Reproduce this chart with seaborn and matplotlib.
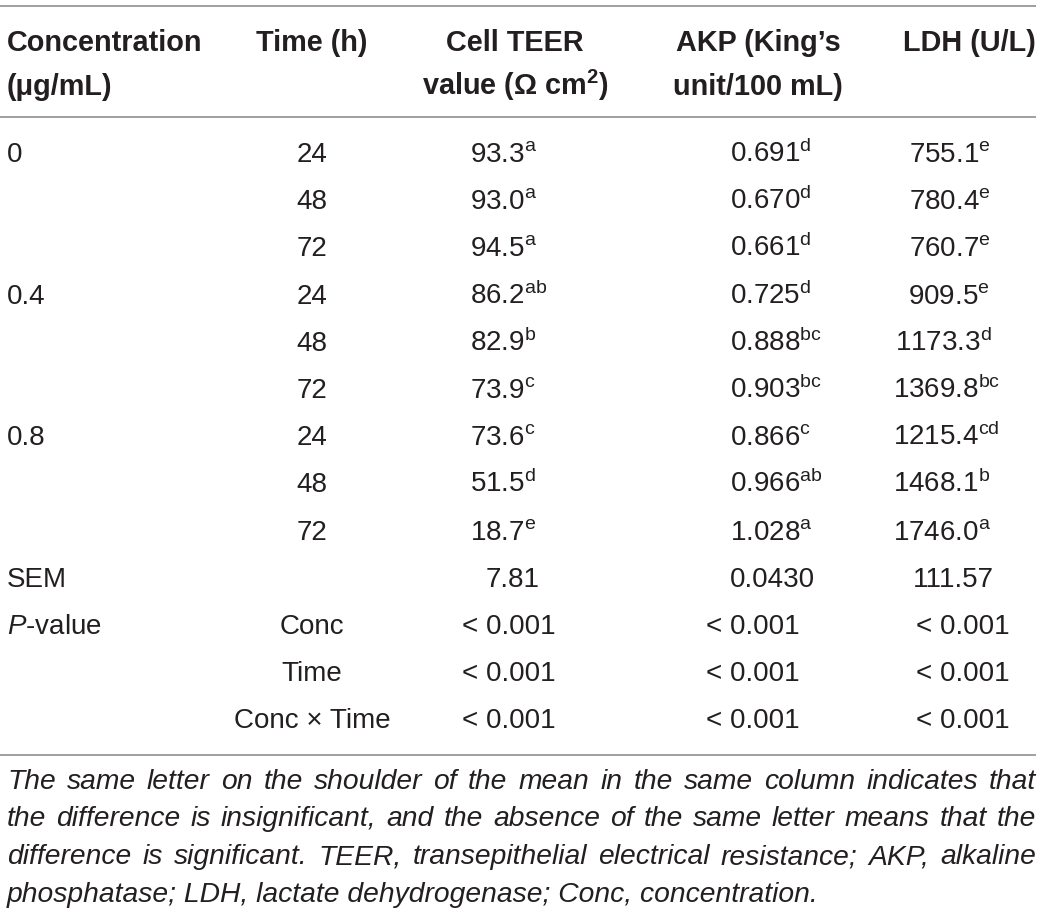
import matplotlib
matplotlib.use("Agg")
import matplotlib.pyplot as plt
import seaborn as sns

# table content
conc_labels = ["0", "", "", "0.4", "", "", "0.8", "", ""]
time_labels = ["24", "48", "72", "24", "48", "72", "24", "48", "72"]
teer = ["93.3", "93.0", "94.5", "86.2", "82.9", "73.9", "73.6", "51.5", "18.7"]
teer_sup = ["a", "a", "a", "ab", "b", "c", "c", "d", "e"]
akp = ["0.691", "0.670", "0.661", "0.725", "0.888", "0.903", "0.866", "0.966", "1.028"]
akp_sup = ["d", "d", "d", "d", "bc", "bc", "c", "ab", "a"]
ldh = ["755.1", "780.4", "760.7", "909.5", "1173.3", "1369.8", "1215.4", "1468.1", "1746.0"]
ldh_sup = ["e", "e", "e", "e", "d", "bc", "cd", "b", "a"]
sem_values = ["7.81", "0.0430", "111.57"]
p_terms = ["Conc", "Time", "Conc × Time"]
p_teer = ["< 0.001", "< 0.001", "< 0.001"]
p_akp = ["< 0.001", "< 0.001", "< 0.001"]
p_ldh = ["< 0.001", "< 0.001", "< 0.001"]

headers = [
    ["Concentration", "(μg/mL)"],
    ["Time (h)"],
    ["Cell TEER", r"value (Ω cm$^{\mathbf{2}}$)"],
    ["AKP (King’s", "unit/100 mL)"],
    ["LDH (U/L)"],
]
footnote = [
    "The same letter on the shoulder of the mean in the same column indicates that",
    "the difference is insignificant, and the absence of the same letter means that the",
    "difference is significant. TEER, transepithelial electrical resistance; AKP, alkaline",
    "phosphatase; LDH, lactate dehydrogenase; Conc, concentration.",
]

sns.set_theme(style="white")
plt.rcParams["font.family"] = ["Liberation Sans", "DejaVu Sans"]
plt.rcParams["mathtext.fontset"] = "custom"
plt.rcParams["mathtext.rm"] = "Liberation Sans"
plt.rcParams["mathtext.it"] = "Liberation Sans:italic"
plt.rcParams["mathtext.bf"] = "Liberation Sans:bold"

W, H = 1044, 916
fig = plt.figure(figsize=(W / 100, H / 100), dpi=100)
ax = fig.add_axes([0, 0, 1, 1])
ax.set_xlim(0, W)
ax.set_ylim(H, 0)
ax.axis("off")
r = fig.canvas.get_renderer()

ink = "#231f20"
fs = 20
hfs = 20.8
x_left = 7
x_time = 312
dec_x = [501, 745, 955]
head_x = [x_left, 312, 515, 758, 1036]
head_ha = ["left", "center", "center", "center", "right"]

ax.hlines([6, 117, 755], 0, 1036, color="#8f8f8f", lw=1.2)

# header
for lines, hx, ha in zip(headers, head_x, head_ha):
    for k, txt in enumerate(lines):
        ax.text(hx, 51 + 44 * k, txt, ha=ha, va="baseline", fontsize=hfs,
                fontweight="bold", color=ink)


def text_w(s, **kw):
    t = ax.text(0, 0, s, fontsize=fs, **kw)
    w = t.get_window_extent(r).width
    t.remove()
    return w


def dec_text(x, y, s, sup=""):
    ip = s.split(".")[0]
    # measure "ip." minus "." so the decimal point lands on x
    w = text_w(ip + ".") - text_w(".")
    full = s + (r"$^{\mathrm{%s}}$" % sup if sup else "")
    ax.text(x - w, y, full, ha="left", va="baseline", fontsize=fs, color=ink)


row_h = 47.2
base0 = 162
for i in range(len(time_labels)):
    y = base0 + i * row_h
    ax.text(x_left, y, conc_labels[i], ha="left", va="baseline", fontsize=fs, color=ink)
    ax.text(x_time, y, time_labels[i], ha="center", va="baseline", fontsize=fs, color=ink)
    dec_text(dec_x[0], y, teer[i], teer_sup[i])
    dec_text(dec_x[1], y, akp[i], akp_sup[i])
    dec_text(dec_x[2], y, ldh[i], ldh_sup[i])

y = base0 + 9 * row_h
ax.text(x_left, y, "SEM", ha="left", va="baseline", fontsize=fs, color=ink)
for dx, v in zip(dec_x, sem_values):
    dec_text(dx, y, v)

for j in range(len(p_terms)):
    y = base0 + (10 + j) * row_h
    if j == 0:
        ax.text(x_left, y, r"$\mathit{P}$-value", ha="left", va="baseline",
                fontsize=fs, color=ink)
    ax.text(x_time, y, p_terms[j], ha="center", va="baseline", fontsize=fs, color=ink)
    for dx, col in zip(dec_x, [p_teer, p_akp, p_ldh]):
        dec_text(dx, y, col[j])

# footnote, justified except the last line
ffs = 20.3
for k, line in enumerate(footnote):
    y = 789 + 37.5 * k
    if k == len(footnote) - 1:
        ax.text(x_left, y, line, ha="left", va="baseline", fontsize=ffs,
                style="italic", color=ink)
        continue
    words = line.split(" ")
    arts = [ax.text(0, y, w, ha="left", va="baseline", fontsize=ffs,
                    style="italic", color=ink) for w in words]
    widths = [a.get_window_extent(r).width for a in arts]
    gap = (1036 - x_left - sum(widths)) / (len(words) - 1)
    x = x_left
    for a, w in zip(arts, widths):
        a.set_x(x)
        x += w + gap

fig.savefig("out.png", dpi=100, facecolor="white")
